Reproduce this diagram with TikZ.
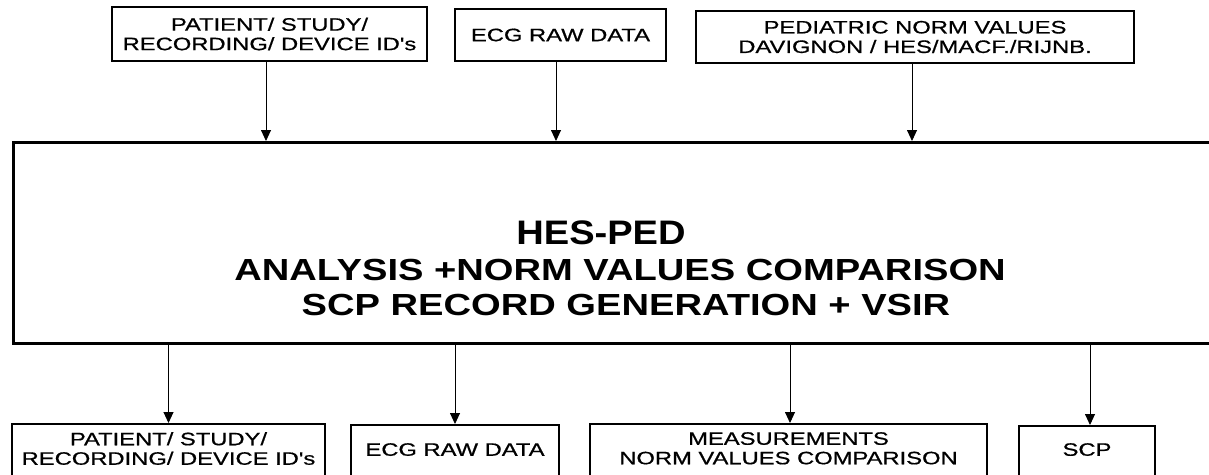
\documentclass[tikz,border=0pt]{standalone}
\usepackage{fontspec}
\usepackage{graphicx}
\newfontfamily\arial{Liberation Sans}
\newfontfamily\arialh[FakeBold=0.6]{Liberation Sans}
\usetikzlibrary{arrows.meta}
\newcommand\sx[1]{\scalebox{1.32}[1]{#1}}
\newcommand\bx[1]{\scalebox{1.25}[1]{#1}}
\begin{document}
\begin{tikzpicture}[x=1pt,y=-1pt,
  box/.style={draw, line width=1.8pt, inner sep=0pt, font=\arialh\fontsize{18}{19.5}\selectfont, align=center},
  lbl/.style={inner sep=0pt, font=\arialh\fontsize{18}{19.5}\selectfont, align=center, anchor=north},
  big/.style={inner sep=0pt, font=\arial\bfseries\fontsize{30.5}{34}\selectfont},
  arr/.style={line width=0.9pt, -{Triangle[width=10pt,length=11pt]}}]
\useasboundingbox (0,0) rectangle (1209,474);
\clip (0,0) rectangle (1209,474);
% top boxes
\node[box, minimum width=315, minimum height=54] (t1) at (269.5,34) {\sx{PATIENT/ STUDY/}\\\sx{RECORDING/ DEVICE ID's}};
\node[box, minimum width=211, minimum height=52] (t2) at (560.5,35) {\sx{ECG RAW DATA}};
\node[box, minimum width=438, minimum height=52] (t3) at (915,37) {\sx{PEDIATRIC NORM VALUES}\\\sx{DAVIGNON / HES/MACF./RIJNB.}};
% main box
\node[draw, line width=3pt, minimum width=1230, minimum height=201, anchor=north west, inner sep=0pt] (main) at (12,141) {};
\node[big, font=\arial\bfseries\fontsize{34}{40}\selectfont, anchor=base] (m1) at (601,244) {\scalebox{1.12}[1]{HES-PED}};
\node[big, anchor=base] (m2) at (620,280) {\bx{ANALYSIS +NORM VALUES COMPARISON}};
\node[big, anchor=base] (m3) at (626,315) {\bx{SCP RECORD GENERATION + VSIR}};
% bottom boxes
\node[box, minimum width=313, minimum height=90, anchor=north] (b1) at (168.5,423) {};
\node[box, minimum width=208, minimum height=90, anchor=north] (b2) at (455,424) {};
\node[box, minimum width=397, minimum height=90, anchor=north] (b3) at (788.5,423) {};
\node[box, minimum width=136, minimum height=90, anchor=north] (b4) at (1087,425) {};
\node[lbl] (b1t) at ([yshift=-9]b1.north) {\sx{PATIENT/ STUDY/}\\\sx{RECORDING/ DEVICE ID's}};
\node[lbl] (b2t) at ([yshift=-19]b2.north) {\sx{ECG RAW DATA}};
\node[lbl] (b3t) at ([yshift=-9]b3.north) {\sx{MEASUREMENTS}\\\sx{NORM VALUES COMPARISON}};
\node[lbl] (b4t) at ([yshift=-18]b4.north) {\sx{SCP}};
% arrows in
\draw[arr] ([xshift=-3.5]t1.south) -- ([xshift=-3.5]t1.south |- main.north);
\draw[arr] ([xshift=-4.5]t2.south) -- ([xshift=-4.5]t2.south |- main.north);
\draw[arr] ([xshift=-3]t3.south) -- ([xshift=-3]t3.south |- main.north);
% arrows out
\draw[arr] (main.south -| b1.north) -- (b1.north);
\draw[arr] (main.south -| b2.north) -- (b2.north);
\draw[arr] ([xshift=1.5]main.south -| b3.north) -- ([xshift=1.5]b3.north);
\draw[arr] ([xshift=3]main.south -| b4.north) -- ([xshift=3]b4.north);
\end{tikzpicture}
\end{document}
